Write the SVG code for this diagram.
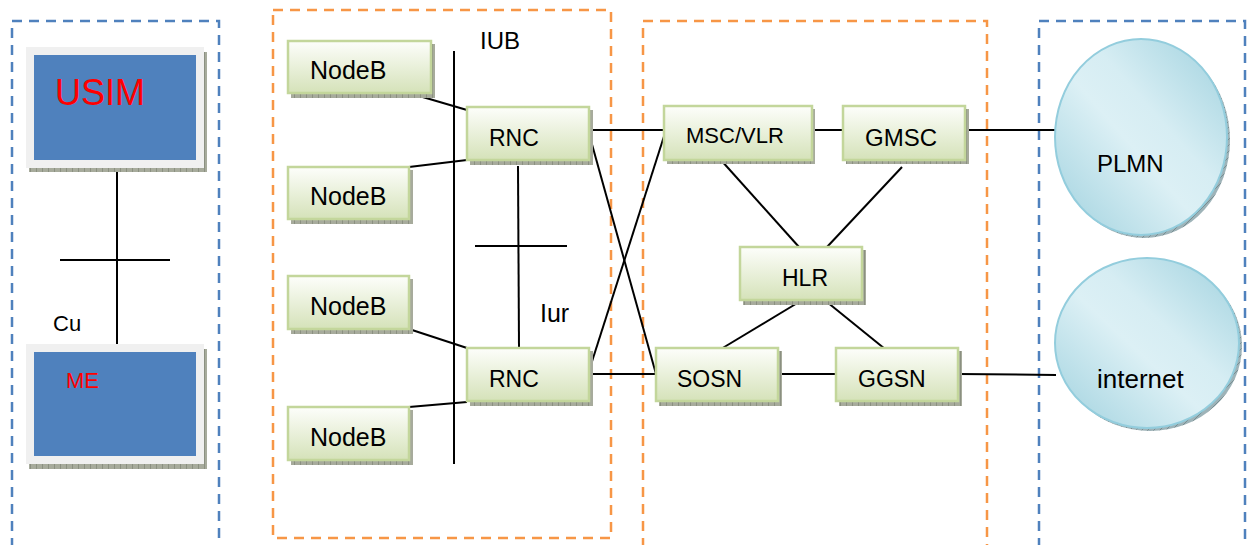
<svg xmlns="http://www.w3.org/2000/svg" width="1248" height="545" viewBox="0 0 1248 545">
  <defs>
    <linearGradient id="greenFill" x1="0" y1="0" x2="0" y2="1">
      <stop offset="0" stop-color="#fdfefb"/>
      <stop offset="1" stop-color="#d5e2b9"/>
    </linearGradient>
    <linearGradient id="cloudFill" x1="0" y1="1" x2="1" y2="0">
      <stop offset="0" stop-color="#9fd1de"/>
      <stop offset="0.45" stop-color="#dcf0f5"/>
      <stop offset="0.6" stop-color="#d6edf3"/>
      <stop offset="1" stop-color="#9fd1de"/>
    </linearGradient>
    <pattern id="hatch" width="6" height="6" patternUnits="userSpaceOnUse">
      <rect width="6" height="6" fill="#a7ab9c"/>
      <path d="M0 0V6" stroke="#6f7566" stroke-width="1"/>
    </pattern>
    <pattern id="hatchBlue" width="6" height="6" patternUnits="userSpaceOnUse">
      <rect width="6" height="6" fill="#9eb3b8"/>
      <path d="M0 6L6 0" stroke="#6f8488" stroke-width="0.8"/>
    </pattern>
  </defs>
  <style>
    .zoneBlue { fill: none; stroke: #4f81bd; stroke-width: 2.5; stroke-dasharray: 10 7; }
    .zoneOrange { fill: none; stroke: #f79646; stroke-width: 2.5; stroke-dasharray: 10 7; }
    .box { fill: url(#greenFill); stroke: #c3d69b; stroke-width: 2.5; }
    .shadow { fill: url(#hatch); }
    .card { fill: #4f81bd; stroke: #f0f0f0; stroke-width: 8; }
    .cloud { fill: url(#cloudFill); stroke: #93cddd; stroke-width: 2; }
    .cloudShadow { fill: url(#hatchBlue); }
    .link { stroke: #000; stroke-width: 2; fill: none; }
    text { font-family: "Liberation Sans", Arial, sans-serif; fill: #000; }
    .red { fill: #ff0000; }
  </style>

  <rect width="1248" height="545" fill="#ffffff"/>

  <!-- dashed zones -->
  <g id="zones">
    <path class="zoneBlue" d="M12 548V21H219V548"/>
    <rect class="zoneOrange" x="273" y="10" width="338" height="528"/>
    <path class="zoneOrange" d="M643 548V21H987V548"/>
    <path class="zoneBlue" d="M1039 548V21H1245V548"/>
  </g>

  <!-- connectors -->
  <g id="connectors">
    <line class="link" x1="117" y1="168" x2="117" y2="349"/>
    <line class="link" x1="60" y1="260" x2="170" y2="260"/>
    <line class="link" x1="454" y1="51" x2="454" y2="464"/>
    <line class="link" x1="409" y1="93" x2="467" y2="110"/>
    <line class="link" x1="409" y1="167" x2="467" y2="160"/>
    <line class="link" x1="409" y1="329" x2="467" y2="348"/>
    <line class="link" x1="409" y1="407" x2="467" y2="402"/>
    <line class="link" x1="518" y1="166" x2="519" y2="348"/>
    <line class="link" x1="475" y1="246" x2="567" y2="246"/>
    <line class="link" x1="588" y1="130" x2="666" y2="130"/>
    <line class="link" x1="588" y1="374" x2="656" y2="374"/>
    <line class="link" x1="588" y1="130" x2="656" y2="374"/>
    <line class="link" x1="588" y1="374" x2="666" y2="130"/>
    <line class="link" x1="812" y1="130" x2="843" y2="130"/>
    <line class="link" x1="965" y1="130" x2="1056" y2="130"/>
    <line class="link" x1="720" y1="159" x2="799" y2="247"/>
    <line class="link" x1="902" y1="167" x2="827" y2="247"/>
    <line class="link" x1="799" y1="302" x2="721" y2="349"/>
    <line class="link" x1="827" y1="302" x2="885" y2="349"/>
    <line class="link" x1="778" y1="374" x2="836" y2="374"/>
    <line class="link" x1="958" y1="374" x2="1056" y2="375"/>
  </g>

  <!-- terminal -->
  <g id="usim">
    <rect class="shadow" x="29" y="165" width="178" height="7"/>
    <rect class="shadow" x="203" y="52" width="4" height="120"/>
    <rect class="card" x="30" y="51" width="170" height="113"/>
    <text class="red" x="55" y="105" font-size="36">USIM</text>
  </g>
  <g id="me">
    <rect class="shadow" x="29" y="462" width="178" height="7"/>
    <rect class="shadow" x="203" y="349" width="4" height="120"/>
    <rect class="card" x="30" y="348" width="170" height="112"/>
    <text class="red" x="66" y="388" font-size="22">ME</text>
  </g>
  <g id="label-cu"><text x="53" y="331" font-size="22">Cu</text></g>

  <!-- radio access -->
  <g id="nodeb-1">
    <rect class="shadow" x="291" y="44" width="144" height="54"/>
    <rect class="box" x="288" y="41" width="143" height="52"/>
    <text x="310" y="79" font-size="25">NodeB</text>
  </g>
  <g id="nodeb-2">
    <rect class="shadow" x="291" y="170" width="122" height="54"/>
    <rect class="box" x="288" y="167" width="121" height="52"/>
    <text x="310" y="205" font-size="25">NodeB</text>
  </g>
  <g id="nodeb-3">
    <rect class="shadow" x="291" y="279" width="122" height="55"/>
    <rect class="box" x="288" y="276" width="121" height="53"/>
    <text x="310" y="315" font-size="25">NodeB</text>
  </g>
  <g id="nodeb-4">
    <rect class="shadow" x="291" y="410" width="122" height="55"/>
    <rect class="box" x="288" y="407" width="121" height="53"/>
    <text x="310" y="446" font-size="25">NodeB</text>
  </g>
  <g id="rnc-1">
    <rect class="shadow" x="470" y="110" width="123" height="55"/>
    <rect class="box" x="467" y="107" width="122" height="53"/>
    <text x="489" y="146" font-size="23">RNC</text>
  </g>
  <g id="rnc-2">
    <rect class="shadow" x="470" y="351" width="123" height="55"/>
    <rect class="box" x="467" y="348" width="122" height="53"/>
    <text x="489" y="387" font-size="23">RNC</text>
  </g>
  <g id="label-iub"><text x="480" y="49" font-size="24">IUB</text></g>
  <g id="label-iur"><text x="540" y="322" font-size="25">Iur</text></g>

  <!-- core network -->
  <g id="msc-vlr">
    <rect class="shadow" x="667" y="109" width="148" height="55"/>
    <rect class="box" x="664" y="106" width="148" height="54"/>
    <text x="686" y="143" font-size="22">MSC/VLR</text>
  </g>
  <g id="gmsc">
    <rect class="shadow" x="846" y="109" width="123" height="55"/>
    <rect class="box" x="843" y="106" width="122" height="54"/>
    <text x="865" y="146" font-size="24">GMSC</text>
  </g>
  <g id="hlr">
    <rect class="shadow" x="743" y="250" width="123" height="55"/>
    <rect class="box" x="740" y="247" width="122" height="53"/>
    <text x="782" y="286" font-size="23">HLR</text>
  </g>
  <g id="sosn">
    <rect class="shadow" x="659" y="351" width="123" height="55"/>
    <rect class="box" x="656" y="348" width="122" height="53"/>
    <text x="677" y="387" font-size="23">SOSN</text>
  </g>
  <g id="ggsn">
    <rect class="shadow" x="839" y="351" width="123" height="55"/>
    <rect class="box" x="836" y="348" width="122" height="53"/>
    <text x="858" y="387" font-size="23">GGSN</text>
  </g>

  <!-- external networks -->
  <g id="plmn">
    <ellipse class="cloudShadow" cx="1144" cy="140" rx="86" ry="98"/>
    <ellipse class="cloud" cx="1141" cy="137" rx="86" ry="98"/>
    <text x="1097" y="172" font-size="24">PLMN</text>
  </g>
  <g id="internet">
    <ellipse class="cloudShadow" cx="1150" cy="346" rx="92" ry="85"/>
    <ellipse class="cloud" cx="1147" cy="343" rx="92" ry="85"/>
    <text x="1097" y="388" font-size="26">internet</text>
  </g>
</svg>
